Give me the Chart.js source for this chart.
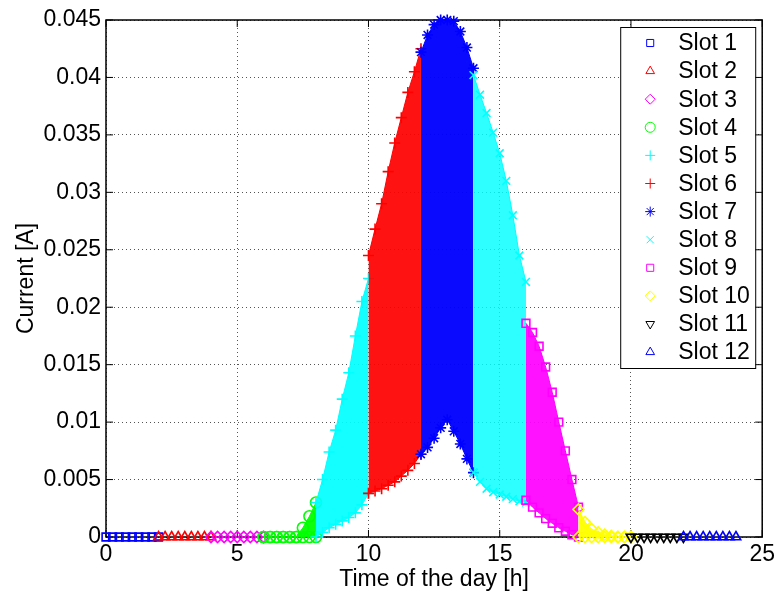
<!DOCTYPE html>
<html>
<head>
<meta charset="utf-8">
<script src="https://cdn.jsdelivr.net/npm/chart.js@4.4.0/dist/chart.umd.min.js"></script>
<style>
body{margin:0;background:#fff}
#wrap{width:779px;height:594px}
</style>
</head>
<body>
<div id="wrap"><canvas id="myChart"></canvas></div>
<script>
// 슬롯별 전류 (시간대 2시간씩)
var slotNames = ['Slot 1', 'Slot 2', 'Slot 3', 'Slot 4', 'Slot 5', 'Slot 6', 'Slot 7', 'Slot 8', 'Slot 9', 'Slot 10', 'Slot 11', 'Slot 12'];
var slotStart = [0, 2, 4, 6, 8, 10, 12, 14, 16, 18, 20, 22];
var stepHours = [0, 0.25, 0.5, 0.75, 1, 1.25, 1.5, 1.75, 2];

// 위쪽 경계 (각 슬롯)
var upper1 = [0, 0, 0, 0, 0, 0, 0, 0, 0];
var upper2 = [0, 0, 0, 0, 0, 0, 0, 0, 0];
var upper3 = [0, 0, 0, 0, 0, 0, 0, 0, 0];
var upper4 = [0, 0, 0, 0, 0, 0, 0.0008, 0.0018, 0.003];
var upper5 = [0.003, 0.005, 0.0074, 0.0093, 0.012, 0.0143, 0.0175, 0.0205, 0.0225];
var upper6 = [0.0245, 0.0268, 0.029, 0.0318, 0.0343, 0.0365, 0.0387, 0.0405, 0.0425];
var upper7 = [0.0422, 0.0437, 0.0446, 0.045, 0.045, 0.0449, 0.044, 0.0426, 0.0408];
var upper8 = [0.0402, 0.0385, 0.0369, 0.0352, 0.0334, 0.031, 0.028, 0.0245, 0.0222];
var upper9 = [0.0186, 0.0178, 0.0166, 0.0148, 0.0126, 0.01, 0.0075, 0.005, 0.0026];
var upper10 = [0.0024, 0.0013, 0.0007, 0.0004, 0.0002, 0.0001, 0, 0, 0];
var upper11 = [0, 0, 0, 0, 0, 0, 0, 0, 0];
var upper12 = [0, 0, 0, 0, 0, 0, 0, 0, 0];

// 아래쪽 경계
var lower4 = [0, 0, 0, 0, 0, 0, 0, 0, 0];
var lower5 = [0, 0.0004, 0.0008, 0.0011, 0.0014, 0.0017, 0.0021, 0.0028, 0.0038];
var lower6 = [0.0038, 0.004, 0.0042, 0.0045, 0.0048, 0.0053, 0.0058, 0.0064, 0.0072];
var lower7 = [0.0072, 0.0078, 0.0086, 0.0095, 0.0102, 0.0092, 0.0081, 0.0068, 0.0056];
var lower8 = [0.0056, 0.0048, 0.0042, 0.0039, 0.0037, 0.0035, 0.0033, 0.0031, 0.003];
var lower9 = [0.0032, 0.0026, 0.0021, 0.0016, 0.0012, 0.0008, 0.0005, 0.0002, 0];
var lower10 = [0, 0, 0, 0, 0, 0, 0, 0, 0];

var xTicks = [0, 5, 10, 15, 20, 25];
var yTicks = [0, 0.005, 0.01, 0.015, 0.02, 0.025, 0.03, 0.035, 0.04, 0.045];

var slotUpper = [upper1, upper2, upper3, upper4, upper5, upper6, upper7, upper8, upper9, upper10, upper11, upper12];
var slotLower = [null, null, null, lower4, lower5, lower6, lower7, lower8, lower9, lower10, null, null];

var slotColors = ['#0000ff', '#ff0000', '#ff00ff', '#00ff00', '#00ffff', '#ff0000', '#0000ff', '#00ffff', '#ff00ff', '#ffff00', '#000000', '#0000ff'];
var slotFill = ['', '', '', 'rgba(0,255,0,0.95)', 'rgba(0,255,255,0.92)', 'rgba(255,0,0,0.93)', 'rgba(0,0,255,0.96)', 'rgba(0,255,255,0.82)', 'rgba(255,0,255,0.93)', 'rgba(255,255,0,0.95)', '', ''];
var slotMarkers = ['rect', 'triangle', 'rectRot', 'circle', 'cross', 'cross', 'star', 'crossRot', 'rect', 'rectRot', 'triangle', 'triangle'];
var slotRotation = [0, 0, 0, 0, 0, 0, 0, 0, 0, 0, 180, 0];

var font = {family: "'Liberation Sans', Arial, Helvetica, sans-serif", size: 23};

function toPoints(i, arr){
    return arr.map(function(v, j){ return {x: slotStart[i] + stepHours[j], y: v}; });
}

var datasets = [];
slotNames.forEach(function(name, i){
    var base = {
        label: name,
        borderColor: slotColors[i],
        pointStyle: slotMarkers[i],
        pointRotation: slotRotation[i],
        pointRadius: 5.5,
        pointBorderWidth: 1.6,
        pointBorderColor: slotColors[i],
        pointBackgroundColor: 'rgba(0,0,0,0)',
        order: 12 - i,
        clip: false
    };
    if (slotLower[i]) {
        datasets.push(Object.assign({}, base, {data: toPoints(i, slotUpper[i]), showLine: true, borderWidth: 1, backgroundColor: slotFill[i], fill: '+1'}));
        datasets.push(Object.assign({}, base, {label: '', data: toPoints(i, slotLower[i]), showLine: true, borderWidth: 1, fill: false}));
    } else {
        datasets.push(Object.assign({}, base, {data: toPoints(i, slotUpper[i]), showLine: false}));
    }
});

// 테두리, 안쪽 눈금
var framePlugin = {
    id: 'frame',
    beforeDatasetsDraw: function(chart){
        var a = chart.chartArea, ctx = chart.ctx, sx = chart.scales.x, sy = chart.scales.y;
        ctx.save();
        ctx.strokeStyle = '#000';
        ctx.lineWidth = 1.5;
        ctx.strokeRect(a.left, a.top, a.right - a.left, a.bottom - a.top);
        ctx.beginPath();
        xTicks.forEach(function(t){
            var px = sx.getPixelForValue(t);
            ctx.moveTo(px, a.bottom); ctx.lineTo(px, a.bottom - 7);
            ctx.moveTo(px, a.top); ctx.lineTo(px, a.top + 7);
        });
        yTicks.forEach(function(t){
            var py = sy.getPixelForValue(t);
            ctx.moveTo(a.left, py); ctx.lineTo(a.left + 7, py);
            ctx.moveTo(a.right, py); ctx.lineTo(a.right - 7, py);
        });
        ctx.lineWidth = 1;
        ctx.stroke();
        ctx.restore();
    }
};

// 범례 (그래프 안쪽 오른쪽 위)
var legendPlugin = {
    id: 'boxLegend',
    afterDraw: function(chart){
        var a = chart.chartArea, ctx = chart.ctx;
        var w = 135, h = 341;
        var left = a.right - 7 - w, top = a.top + 7;
        ctx.save();
        ctx.fillStyle = '#fff';
        ctx.fillRect(left, top, w, h);
        ctx.strokeStyle = '#000';
        ctx.lineWidth = 1;
        ctx.strokeRect(left + 0.5, top + 0.5, w, h);
        ctx.font = font.size + 'px ' + font.family;
        ctx.textBaseline = 'middle';
        ctx.textAlign = 'left';
        slotNames.forEach(function(name, i){
            var cy = top + 16 + i * 28.1;
            var cx = left + 30;
            ctx.strokeStyle = slotColors[i];
            ctx.fillStyle = 'rgba(0,0,0,0)';
            if (Chart.helpers && Chart.helpers.drawPoint) {
                Chart.helpers.drawPoint(ctx, {pointStyle: slotMarkers[i], rotation: slotRotation[i], radius: 5, borderWidth: 1}, cx, cy);
            } else {
                ctx.strokeRect(cx - 4, cy - 4, 8, 8);
            }
            ctx.fillStyle = '#000';
            ctx.fillText(name, left + 58, cy + 1);
        });
        ctx.restore();
    }
};

var ctx = document.getElementById('myChart').getContext('2d');
var myChart = new Chart(ctx, {
    type: 'scatter',
    data: {datasets: datasets},
    options: {
        responsive: true,
        maintainAspectRatio: false,
        animation: false,
        layout: {padding: {left: 0, right: 16, top: 20, bottom: 0}},
        plugins: {legend: {display: false}, tooltip: {enabled: false}},
        scales: {
            x: {
                type: 'linear', min: 0, max: 25,
                afterBuildTicks: function(s){ s.ticks = xTicks.map(function(v){ return {value: v}; }); },
                afterFit: function(s){ s.height = 57; },
                ticks: {font: font, color: '#000', padding: 4, maxRotation: 0},
                grid: {color: '#555', lineWidth: 1, drawTicks: false},
                border: {display: false, dash: [1, 3]},
                title: {display: true, text: 'Time of the day [h]', font: font, color: '#000', padding: {top: 0, bottom: 1}}
            },
            y: {
                type: 'linear', min: 0, max: 0.045,
                afterBuildTicks: function(s){ s.ticks = yTicks.map(function(v){ return {value: v}; }); },
                afterFit: function(s){ s.width = 106; },
                ticks: {font: font, color: '#000', padding: 5, callback: function(v){ return String(+v.toFixed(3)); }},
                grid: {color: '#555', lineWidth: 1, drawTicks: false},
                border: {display: false, dash: [1, 3]},
                title: {display: true, text: 'Current [A]', font: font, color: '#000', padding: {top: 13, bottom: 0}}
            }
        }
    },
    plugins: [framePlugin, legendPlugin]
});
</script>
</body>
</html>
